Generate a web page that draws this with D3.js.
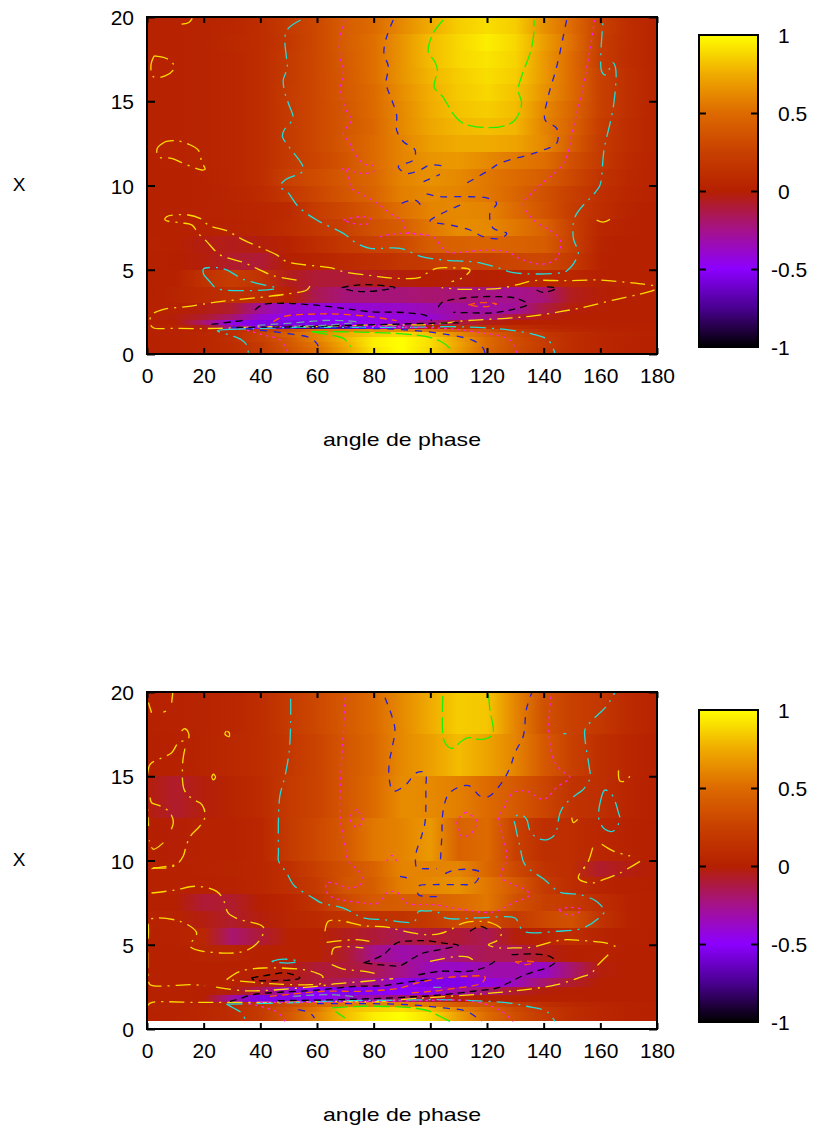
<!DOCTYPE html>
<html><head><meta charset="utf-8">
<script src="https://cdn.jsdelivr.net/npm/d3@7"></script>
<style>html,body{margin:0;background:#fff}svg{display:block}text{font-family:"Liberation Sans",Arial,sans-serif;fill:#000}</style>
</head><body><div id="c"></div>
<script>
const xTicks=[0,20,40,60,80,100,120,140,160,180];
const yTicks=[0,5,10,15,20];
const barTicks=[-1,-0.5,0,0.5,1];
const xLabel="angle de phase", yLabel="X";
const angles=[0,10,20,30,40,50,60,70,80,90,100,110,120,130,140,150,160,170,180];
const paletteStops=[-1,-0.75,-0.5,-0.25,0,0.25,0.5,0.75,1];
const paletteColors=["#000000","#4a0090","#8c00ff","#a5128a","#b52000","#c84000","#dd6a00","#f0ab00","#ffff00"];

const topEdges=[20,19,18,17,16,15,14,13,12,11,10,9,8,7,6,5,4,3,2.4,2,1.7,1.5,1.3,1,.7,.4,0];
const topValues=[
[.02,.02,.03,.05,.1,.2,.3,.42,.5,.62,.75,.85,.9,.85,.65,.5,.25,.1,.03],
[.02,.02,.03,.06,.1,.19,.3,.42,.52,.66,.8,.88,.95,.88,.7,.52,.23,.1,.03],
[.02,.02,.03,.05,.1,.2,.3,.41,.52,.66,.8,.88,.92,.87,.68,.5,.22,.1,.03],
[.02,.02,.03,.05,.1,.2,.3,.4,.52,.66,.78,.85,.9,.85,.68,.5,.25,.12,.03],
[.02,.02,.03,.05,.1,.21,.3,.4,.5,.64,.76,.84,.88,.82,.66,.5,.25,.12,.03],
[.02,.02,.03,.05,.1,.2,.3,.38,.5,.62,.75,.82,.85,.8,.62,.47,.25,.12,.02],
[.02,.02,.03,.05,.1,.2,.3,.38,.48,.62,.73,.79,.81,.78,.6,.45,.22,.1,.02],
[.02,.02,.03,.05,.1,.2,.3,.39,.5,.6,.7,.75,.75,.72,.62,.42,.2,.1,.02],
[.01,.02,.03,.05,.1,.2,.28,.37,.5,.6,.66,.68,.62,.56,.52,.34,.2,.08,.02],
[.01,.01,.02,.05,.1,.25,.32,.4,.48,.6,.65,.62,.55,.5,.42,.3,.15,.06,.02],
[.01,.01,.02,.04,.08,.18,.28,.38,.46,.58,.62,.6,.55,.47,.35,.24,.12,.05,.02],
[.01,.01,.02,.03,.05,.08,.22,.3,.4,.52,.6,.62,.6,.5,.37,.22,.1,.03,.01],
[.01,.01,.01,.02,.04,.1,.18,.25,.35,.42,.55,.63,.62,.55,.45,.25,.05,.02,.01],
[.02,.01,-.03,-.05,-.02,.02,.1,.19,.25,.3,.42,.45,.47,.45,.42,.25,.03,.01,.01],
[.01,0,-.02,-.08,-.1,0,.03,.08,.12,.17,.2,.25,.25,.28,.3,.2,.02,.01,.01],
[.01,.01,.14,.22,.15,-.05,-.1,-.1,-.05,-.02,0,-.02,0,.02,.05,.05,.01,.01,.01],
[0,.03,.08,.12,.1,0,-.15,-.22,-.22,-.22,-.2,-.22,-.24,-.26,-.22,-.05,-.01,0,0],
[.01,.01,-.03,-.08,-.28,-.4,-.42,-.42,-.4,-.38,-.34,-.3,-.3,-.28,-.12,-.02,0,0,0],
[0,-.02,-.08,-.2,-.4,-.47,-.5,-.48,-.45,-.42,-.4,-.3,-.25,-.1,-.03,0,0,0,0],
[0,0,-.2,-.45,-.55,-.55,-.55,-.5,-.45,-.4,-.25,-.12,-.05,0,.01,.01,.01,0,0],
[.02,.02,-.03,-.3,-.5,-.7,-.8,-.7,-.5,-.3,0,.1,.12,.1,.05,.03,.02,.01,.01],
[.01,.02,.03,.1,.2,.35,.55,.6,.65,.65,.55,.4,.35,.2,.1,.05,.03,.02,.01],
[.01,.02,.05,.1,.25,.45,.6,.75,.85,.9,.8,.62,.45,.3,.18,.1,.05,.03,.02],
[.01,.02,.05,.12,.25,.4,.6,.78,.95,1,.9,.7,.5,.33,.2,.1,.05,.02,.01],
[.01,.02,.05,.1,.2,.38,.55,.75,.95,1,.9,.72,.5,.33,.22,.1,.05,.02,.01],
[.01,.02,.05,.1,.2,.36,.52,.72,.92,1,.88,.7,.48,.32,.2,.1,.05,.02,.01]
];

const bottomEdges=[20,17.5,15,12.5,10,9,8,7,6,5,4,3,2.5,2,1.6,1.3,1,.45];
const bottomValues=[
[.01,.02,.03,.05,.1,.2,.3,.4,.5,.62,.75,.85,.83,.6,.35,.25,.18,.08,.02],
[0,.01,.03,.06,.1,.18,.27,.38,.48,.62,.7,.8,.72,.6,.4,.25,.12,.05,.01],
[-.02,-.08,-.02,.03,.08,.2,.27,.38,.5,.63,.62,.58,.5,.4,.28,.15,.12,.04,.01],
[0,-.01,.02,.02,.05,.2,.3,.4,.55,.6,.68,.45,.5,.25,.12,.1,.05,.02,0],
[.01,.01,.02,.03,.05,.12,.25,.35,.45,.6,.6,.6,.48,.3,.15,.1,-.08,-.03,0],
[.01,.01,.01,.02,.05,.12,.2,.37,.42,.58,.62,.65,.55,.4,.2,.1,.03,.01,0],
[0,0,-.1,-.08,0,.05,.15,.3,.4,.42,.45,.5,.55,.35,.25,.2,.1,.02,.01],
[.02,.02,-.03,-.08,-.02,.05,.08,.15,.15,.15,.2,.3,.3,.2,.3,.35,.15,.02,.01],
[.01,.02,.05,-.2,-.1,.02,.02,-.05,-.1,-.15,-.1,-.1,-.15,-.02,.02,.1,.03,.01,0],
[.01,.01,.03,.03,.01,.02,.02,-.08,-.25,-.32,-.28,-.2,-.15,-.15,-.05,0,.01,0,0],
[.01,.01,.01,.01,.02,-.02,-.1,-.1,-.15,-.25,-.35,-.38,-.32,-.32,-.38,-.2,-.02,0,0],
[.01,.01,.01,.02,-.03,-.05,-.1,-.18,-.25,-.45,-.55,-.55,-.45,-.35,-.2,-.08,0,0,0],
[.01,.01,0,-.02,-.15,-.4,-.5,-.55,-.52,-.5,-.45,-.3,-.2,-.08,-.02,0,0,0,0],
[.01,.01,0,-.3,-.55,-.55,-.5,-.4,-.3,-.2,-.1,-.02,0,0,.01,.01,0,0,0],
[.02,.02,.03,.08,.15,.3,.45,.55,.6,.6,.55,.4,.35,.2,.12,.06,.04,.02,.01],
[.02,.02,.05,.1,.2,.35,.55,.8,.85,.9,.8,.6,.45,.3,.18,.1,.05,.02,.01],
[.01,.02,.05,.1,.2,.38,.6,.8,.95,1,.9,.7,.5,.33,.2,.1,.05,.02,.01]
];

const topYellow=[
[[57.5,4.04],[56.4,3.8],[49.3,3.56],[39.9,3.36],[25.8,3.11],[14,2.81],[5.8,2.65],[1.6,2.31],[1.1,1.82],[2.2,1.56],[9.3,1.52],[24.6,1.52],[41,1.62],[59.9,1.62],[79.9,1.72],[99.9,1.76],[112.8,1.98],[126.9,2.12],[136.4,2.26],[145.8,2.51],[155.2,2.81],[164.6,3.2],[174,3.56],[179.3,3.84],[179.3,4],[175.2,4.15],[169.3,4.25],[159.9,4.39],[148.1,4.35],[136.4,4.35],[131.6,4.15],[124.6,3.9],[117.5,3.84],[110.5,3.84],[104,3.94]],
[[52.8,4.39],[44.6,4.65],[38.7,5.08],[34,5.44],[25.8,5.88],[21.1,6.67],[18.1,7.16],[15.8,7.66],[11.6,7.79],[6.4,7.95],[6.9,8.15],[14.6,8.25],[18.7,8.05],[22.2,7.6],[28.1,7.32],[34,6.77],[41.6,6.21],[45.8,5.88],[49.3,5.48],[64.6,5.12],[69.3,4.89],[79.9,4.63],[88.1,4.49],[96.4,4.55],[98.7,4.79],[102.2,5.08],[106.9,5.12],[114,4.99],[111.6,4.55],[107.5,4.29]],
[[2.5,17.69],[1.4,17.15],[2.2,16.46],[6.4,16.5],[9.6,16.95],[8.7,17.35],[5.8,17.6],[2.5,17.69]],
[[6.4,12.6],[3.6,12.2],[4,11.71],[8.7,11.61],[12.8,11.32],[19.3,10.92],[20.5,10.96],[19.3,11.41],[18.1,12.1],[14.6,12.46],[10.5,12.66],[6.4,12.6]],
[[12.2,19.58],[14.6,19.66],[16,19.92]],
[[158.7,7.95],[161,7.83],[163.4,7.99]]
];
const topCyan=[
[[54.2,19.82],[49.9,19.33],[48.7,18.83],[49.3,17.45],[49.5,16.95],[48.1,16.26],[48.7,15.47],[49.9,14.88],[51.6,13.99],[50.5,13.69],[48.4,13.29],[47.8,12.9],[50.5,12.21],[55.2,10.92],[48.7,10.32],[46.9,9.93],[49.5,9.63],[53.4,8.74],[59.9,7.95],[69.3,7.16],[74,6.57],[78.7,6.27],[89.3,6.27],[96.9,5.78],[104.6,5.58],[116.4,5.44],[123.4,5.14],[129.3,4.83],[144.6,4.79],[148.1,4.93],[152.2,5.97],[150.5,6.86],[151.1,8.15],[158.1,9.57],[159.9,10.03],[161.3,12.11],[164.6,14.68],[165.4,16.95],[164.4,17.29],[161.9,16.56],[160.5,16.76],[160.2,17.84],[161,19.82]],
[[20.1,4.69],[22.2,4.29],[24.6,3.9],[34,3.76],[45.8,3.9],[40.5,4.13],[34,4.43],[28.1,4.99],[25.2,5.12],[19.9,5.04],[20.1,4.69]],
[[29.3,1.46],[24.8,1.38],[29.9,1.09],[33.4,.83],[35.2,.53],[35.8,.04]],
[[29.3,1.46],[52.8,1.58],[76.4,1.58],[91.6,1.58],[106.9,1.62],[118.7,1.56],[128.1,1.42],[136.4,1.17],[141.6,.83],[144,.04]]
];
const topMagenta=[
[[70.2,19.82],[68.1,18.83],[68.1,17.65],[69.3,16.66],[68.1,15.67],[70.5,14.38],[72.2,13.89],[69.3,13.1],[71.6,12.5],[74,11.71],[76.9,11.26],[79.9,11.16],[79.9,10.82],[76.4,10.72],[72.8,10.82],[69.9,11.06],[68.1,10.88]],
[[70.5,10.92],[72.2,9.83],[74,9.63],[80.5,9.04],[85.8,8.35],[90.5,7.85],[91.6,7.26],[98.7,7.06],[101,6.96],[105.8,6.07],[112.8,6.07],[119.9,6.17],[126.9,6.07],[132.8,5.58],[139.9,5.34],[144.6,5.68],[145.8,6.77],[141.1,7.46],[136.4,7.95],[132.8,8.94],[136.4,9.63],[138.7,10.03],[147,11.32],[150.5,13.49],[153.9,15.87],[156.3,18.04],[158,19.82]],
[[69.3,7.95],[75.2,8.15],[78.7,8.05],[78.1,7.75],[72.8,7.75],[69.3,7.95]],
[[82.2,6.96],[86.9,7.12],[94,7.16],[98.7,7.06]],
[[35.2,1.42],[41,1.13],[47,.83],[49.9,.04]],
[[35,1.55],[60,1.68],[90,1.6],[104.6,1.52],[115.2,1.33],[128.1,.83],[130.5,.04]]
];
const topBlue=[
[[86.9,19.82],[84.6,18.83],[83.6,17.84],[85.2,17.05],[84.4,16.06],[86.4,15.07],[88.1,14.18],[88.1,13.29],[90.5,12.6],[94.6,12.1],[94,11.51],[88.7,11.12],[91.6,10.72],[96.4,10.92],[99.9,11.22],[105.6,11.12]],
[[97.6,10.23],[103.4,10.66]],
[[89.9,8.94],[94.6,9.14],[96.4,8.84],[94.6,8.74]],
[[148.1,19.82],[146.9,18.83],[144.6,17.05],[141.6,15.27],[140.5,13.89],[144.6,13.39],[144.6,12.5],[139.9,12.11],[134.6,11.81],[124.6,11.32],[119.9,10.82],[111.6,10.03]],
[[110.5,8.84],[104.2,8.35],[99.9,7.89],[106.9,7.66],[114,7.36],[118.7,6.96],[124.6,6.86],[127,7.16],[122.2,7.46],[121,8.35],[123.4,8.94],[120.5,9.24],[111.6,9.34],[103.4,9.34],[98.7,9.5]],
[[30,1.6],[44.6,1.33],[50.5,1.19],[58,.93],[60.5,.44],[60.5,.04]],
[[60,1.55],[90,1.45],[106.9,1.13],[115.2,.79],[118.7,.34],[119.3,.04]]
];
const topGreen=[
[[104.6,19.82],[101,19.03],[99.3,17.94],[101.6,17.35],[102.5,16.85],[101.4,15.83],[104.4,15.27],[105.8,14.88],[108.7,14.12],[111.6,13.69],[118.7,13.45],[125.8,13.53],[129.9,13.89],[132.2,14.88],[131,15.67],[132.8,16.76],[135.2,17.84],[136.4,18.83],[136.6,19.82]],
[[58.1,1.33],[65.8,1.09],[69.3,.93],[71.9,.44]],
[[58.1,1.33],[75,1.3],[92.2,1.17],[98.7,1.03],[103.4,.77],[106.9,.34],[107.9,.04]]
];
const topBlack=[
[[38.1,2.61],[40.5,2.91],[46.9,3.01],[58.7,2.91],[69.3,2.71],[78.7,2.51],[91.6,2.45],[98.7,2.26],[100.5,1.98]],
[[22.8,1.76],[30.5,1.92],[34,2.02],[34.6,2.18]],
[[31.6,1.58],[52.8,1.62],[76.4,1.72],[99.9,1.82],[110,1.85]],
[[68.7,3.94],[74,4.09],[81.1,4.09],[87.5,3.94],[83.3,3.8],[76.4,3.7],[71.1,3.8],[68.7,3.94]],
[[102.8,2.77],[104,3.05],[114,3.36],[124.6,3.4],[130.5,3.3],[134.4,2.95],[129.3,2.65],[122.2,2.45],[112.8,2.45],[108.1,2.47]],
[[137.5,3.8],[139.9,3.66],[144.6,3.9],[141,3.99]]
];
const topOrange=[
[[44.6,1.92],[48.1,2.22],[58.7,2.37],[66.9,2.37],[78.7,2.22],[88.1,1.98]],
[[113.4,2.91],[117.5,3.05],[123.4,2.97],[119.3,2.81],[113.4,2.91]]
];
const topGray=[
[[39,1.7],[52,1.85],[64,2],[74,1.9],[64,1.72],[52,1.65]]
];

const botYellow=[
[[.5,19.37],[1.6,18.77]],[[9.1,19.96],[8.7,19.37]],[[5.8,18.81],[6.7,18.87]],
[[12.2,17.69],[13.4,17.82],[14.6,17.59],[14.6,17.23],[11.1,16.99],[8.7,16.4],[4.6,16.04],[1.1,15.71],[.1,14.82],[.5,12.05]],
[[13.4,16.64],[12.6,15.81],[13.1,14.22],[15.8,13.67],[19.3,13.33],[20.5,12.64],[18.7,12.05],[15.8,11.55],[14,10.96],[12.8,10.27],[10.5,9.77],[7,9.57],[2.2,9.57]],
[[1.1,13.73],[1.6,13.43],[4.8,13.23],[8.1,12.84],[9.3,12.25],[7.9,11.61]],
[[5.8,11.06],[2.2,10.67],[.8,11.2]],
[[28,17.69],[27.5,17.49],[29,17.35],[29,17.59],[28,17.69]],
[[22.8,14.95],[23.4,15.12],[24.2,14.95],[23.4,14.78],[22.8,14.95]],
[[166.4,15.35],[166.9,14.72],[169.3,14.76],[170.5,15.05]],
[[149.9,12.54],[150.5,12.25],[152,12.44]],
[[157.3,10.76],[155.8,9.97],[154,9.47]],
[[160.5,10.96],[164.6,10.56],[170.5,10.27]],
[[174,9.95],[166.9,9.26],[161,8.86],[156.4,8.66],[152.2,8.96],[154.6,9.65]],
[[1.6,9.52],[10.8,9.75]],
[[.1,9.06],[.1,8.07]],
[[1.6,8.07],[9.3,8.23],[17.5,8.47],[24.6,8.17],[26.9,7.68],[28.7,6.88],[32.2,6.53],[41.1,6.03],[39.9,5.3],[35.2,4.67],[25.8,4.51],[15.2,4.91],[17.5,5.7],[11.6,6.39],[1.1,6.49],[.5,5.7],[.5,2.93],[1.1,2.63],[15.8,2.63],[20.5,2.57]],
[[28.1,2.93],[32.8,3.42],[41.1,3.62],[55.2,3.52],[59.9,3.32],[62,3.13],[61.6,2.73],[57.5,2.63],[43.4,2.69],[28.1,2.93]],
[[24.4,2.49],[34,2.27],[42.2,2.29],[59.9,2.53],[67,2.69],[76.4,2.82],[86.9,2.99]],
[[62.8,5.8],[64,6.39],[68.1,6.43],[76.4,6.13],[84.6,6.05],[89.3,5.86],[98.1,5.6],[103.4,5.66],[107,5.89],[111.6,6.29],[117.5,6.39],[121.6,6.29],[125.2,5.89],[124,5.3],[120.5,5],[124.6,4.81],[129.2,4.81],[136.4,4.87],[143.5,5.2],[148.1,5.3],[152.8,5.26],[162.2,5.1],[165.8,4.87]],
[[63.4,5.14],[74,5.3],[78.5,5.2]],
[[65.2,4.41],[66,4.81],[76.4,4.81]],
[[65.2,3.82],[69.3,3.56],[76.9,3.42],[82.2,3.22]],
[[99.9,4.02],[105.2,4.2],[109.3,4.3],[113.4,4.27],[116.4,3.92]],
[[162.8,4.41],[158.7,3.72],[156.9,3.32],[153.4,3.09],[144.6,2.63],[135.2,2.37],[122.2,2.14],[115.2,2.04],[101,1.88],[89.3,1.74],[83.4,1.64],[64.6,1.64],[41,1.58],[17.5,1.58],[1.1,1.54],[.1,1.35]]
];
const botCyan=[
[[50.7,19.6],[50.7,18.18],[50.2,16.5],[48.7,15.01],[46.9,13.83],[46.4,12.44],[46.4,10.46],[46.4,9.99],[49.3,9.26],[51.6,8.57],[53.8,8.27],[58.7,7.77],[61.6,7.48],[69.3,7.18],[76.4,6.59],[83.4,6.49],[94,6.35],[95.2,6.59],[95.8,6.98],[98.7,7],[102.2,6.98],[105.2,6.59],[116.3,6.59],[129.9,6.59],[131.1,6.29],[132.9,5.8],[144.6,5.8],[153.9,5.99],[159.9,6.65],[161.4,6.98],[158.7,7.57],[152.8,7.97],[149.3,8.03],[145.8,8.11],[140,8.9],[133.4,9.75],[131.6,10.86],[130,12.05],[129.6,12.54],[131.7,12.74],[134,12.44],[135.2,11.75],[138.1,11.3],[141.6,11.26],[144,11.55],[145.8,12.84],[147.5,13.33],[151.7,13.93],[154,14.22],[156.4,14.92],[156.1,15.51],[154.6,17.19],[154.6,17.78],[157.5,18.38],[159.9,18.77],[162.2,19.17],[165.1,19.96]],
[[160.5,13.83],[159.5,13.04],[159.5,12.44],[161.6,11.85],[164.6,11.75],[166.9,12.44],[166.4,12.84],[164,13.93],[161.6,14.18],[160.5,13.83]],
[[146.9,17.53],[148,17.53]],
[[44,4.02],[48.1,4.15],[53.4,4.02],[50.5,3.92],[45.8,3.96],[44,4.02]],
[[28.1,1.48],[30.5,1.25],[33.4,.95],[35,.45]],
[[28.1,1.48],[50,1.55],[70,1.68],[88,1.7],[101,1.74],[112.8,1.7],[128.1,1.54],[134,1.35],[141,1.05],[144,.45]]
];
const botMagenta=[
[[69.9,19.66],[69.3,17.59],[68.7,16],[68.1,13.83],[68.1,12.64],[69.9,10.86],[71.1,9.97],[75.2,9.26],[75.8,8.66],[71.6,8.37],[65.8,8.66],[63.4,8.66],[64,7.97],[76.4,7.48],[81.6,7.48],[84.6,8.07],[88.1,8.13],[91.6,7.48],[98.7,7.38],[101.3,7.38],[111.6,7.08],[121,6.92],[124.5,7.08],[129.2,7.48],[135.2,7.97],[133.4,8.27],[128.1,8.66],[124.6,9.06],[126.9,9.95],[126.9,10.46],[124.6,12.05],[124,12.44],[126,13.14],[129.3,14.03],[134,14.12],[140,13.63],[145.1,14.42],[149.3,14.92],[145.8,15.41],[143.5,16],[141.9,17.39],[142.2,19.17],[142.8,19.96]],
[[74,13.04],[71.6,12.54],[74,11.95],[76,12.44],[74,13.04]],
[[112.5,12.88],[109.5,12.34],[111,11.45],[114,11.55],[116.4,12.34],[112.5,12.88]],
[[84.6,9.97],[86.4,10.31],[88.1,9.97]],
[[145.2,7.08],[149.2,7.22],[153.4,7.08],[149.2,6.75],[145.2,7.08]],
[[35.8,1.5],[42.2,1.25],[46.4,.95],[48.7,.45]],
[[40,1.58],[70,1.6],[95,1.68],[115.2,1.64],[124.6,1.11],[129.3,.45]]
];
const botBlue=[
[[84,19.66],[86.4,18.58],[87.5,17.78],[86.4,16.6],[85.5,15.81],[85.5,14.82],[86.9,14.12],[91.1,14.46],[95.2,15.21],[98.1,15.21],[98.4,14.22],[98.1,12.25],[96.9,11.45],[94.9,10.37],[95.2,9.57],[96.9,9.52],[102.2,9.52]],
[[103.6,10.07],[104,11.26],[104.6,13.04],[106.4,13.93],[110.5,14.38],[114,14.42],[117.5,13.83],[120.5,13.79],[125.2,14.62],[128.1,15.51],[129.9,16.4],[132.8,17.39],[133.9,18.97],[135.8,19.96]],
[[105.2,9.22],[108.1,9.42],[114.6,9.46],[117.5,9.3],[115.7,8.66],[109.3,8.57],[101.6,8.57],[95.8,8.47],[95.8,7.97],[103.4,7.87]],
[[89.3,9.06],[92.2,8.96]],
[[53.4,1.15],[57.5,.95],[59.1,.65]],
[[60,1.5],[80,1.5],[92.8,1.44],[104.6,1.25],[112.8,1.05],[118.1,.45]]
];
const botGreen=[
[[104.4,19.76],[104.4,17.49],[105.2,16.99],[107.5,16.65],[111.1,17.09],[113.4,17.29],[118.2,17.19],[122,17.49],[121,18.97],[120.5,19.96]],
[[66.4,1.05],[69.9,.65]],
[[65.2,1.25],[76.4,1.35],[94,1.25],[99.9,1.05],[101,.95],[107,.45]]
];
const botBlack=[
[[36.9,3.03],[43.4,3.22],[49.3,3.32],[54,3.03],[49.3,2.89],[37.5,2.93],[36.9,3.03]],
[[29.3,1.64],[31.6,1.74],[37.5,2.04],[46.9,2.18],[58.7,2.29],[74,2.53],[83.4,2.57],[94,2.83],[99.9,2.93]],
[[76.4,3.92],[83.4,4.41],[88.1,5.1],[95.2,5.24],[98.7,5.24],[104.6,5.1],[109.9,4.97],[103.4,4.71],[97.5,4.51],[94,4.21],[89.3,3.76],[85.8,3.76],[76.4,3.92]],
[[128.7,4.41],[136.4,4.45],[142.2,4.31],[144.2,4.02],[142.2,3.72],[135.2,3.32],[132.2,3.13],[127.5,2.73],[123.4,2.43],[115.2,2.24],[104.6,2.04],[92.8,1.9],[70,1.75],[45,1.68]],
[[95.8,3.22],[103.4,3.42],[112.8,3.42],[118.7,3.62],[122.8,4.02]],
[[114,5.8],[117.5,6.09],[120.5,5.9]]
];
const botOrange=[
[[129.9,3.98],[134,4.02],[136.9,3.96],[133.4,3.82],[129.9,3.98]],
[[43.4,1.94],[49.3,2.04],[62.2,2.24],[76.4,2.24],[89.3,2.43],[95.2,2.73],[104.6,3.03],[112.8,3.13],[119.3,3.09],[118.1,2.73],[109.3,2.43],[101,2.24],[92.8,2.14]]
];
const botGray=[
[[51.6,1.94],[64.6,2.04],[74,1.9]],
[[101,2.47],[104.6,2.47]]
];

const w=815,h=1126;
const svg=d3.select("#c").append("svg").attr("width",w).attr("height",h).attr("viewBox",`0 0 ${w} ${h}`);
const defs=svg.append("defs");
const color=d3.scaleLinear().domain(paletteStops).range(paletteColors).interpolate(d3.interpolateRgb).clamp(true);
const lineStyles=[
 ["#ffdc00","15 6 2 6"],["#1fdcdc","16 6 2 6"],["#ff1fe0","2.6 4"],["#2020e0","7 7"],
 ["#1ff000","16 5"],["#000000","7 5"],["#ff5a00","7 5"],["#6f9fa8","8 5"]];

function panel(id,cfg){
 const g=svg.append("g");
 const x=d3.scaleLinear().domain([0,180]).range([147,657]);
 const y=d3.scaleLinear().domain([0,20]).range([cfg.y0,cfg.y0-337]);
 const clipId="clip"+id;
 defs.append("clipPath").attr("id",clipId).append("rect").attr("x",147).attr("y",cfg.y0-337).attr("width",510).attr("height",337);
 cfg.values.forEach((row,i)=>{
  const gid=`${id}r${i}`;
  const lg=defs.append("linearGradient").attr("id",gid);
  row.forEach((v,j)=>lg.append("stop").attr("offset",angles[j]/180).attr("stop-color",color(v)));
  const y1=Math.round(y(cfg.edges[i])), y2=Math.round(y(cfg.edges[i+1]));
  g.append("rect").attr("x",x(0)).attr("width",x(180)-x(0))
   .attr("y",y1).attr("height",y2-y1)
   .attr("shape-rendering","crispEdges")
   .attr("fill",`url(#${gid})`);
 });
 const line=d3.line().x(d=>x(d[0])).y(d=>y(d[1])).curve(d3.curveCatmullRom.alpha(.5));
 const cg=g.append("g").attr("clip-path",`url(#${clipId})`);
 cfg.contours.forEach((set,k)=>{
  cg.selectAll(null).data(set).join("path").attr("d",line).attr("fill","none")
   .attr("stroke",lineStyles[k][0]).attr("stroke-dasharray",lineStyles[k][1]).attr("stroke-width",1.3);
 });
 const ax=(a,t)=>{a.attr("font-size",null).attr("font-family",null);a.select(".domain").remove();a.selectAll("line").attr("stroke","#000").attr("stroke-width",2);t&&a.selectAll("text").attr("font-size",21)};
 g.append("g").attr("transform",`translate(0,${cfg.y0})`).call(d3.axisBottom(x).tickValues(xTicks).tickSize(-6).tickPadding(14).tickFormat(d3.format("d"))).call(a=>ax(a,1));
 g.append("g").attr("transform",`translate(0,${cfg.y0-337})`).call(d3.axisTop(x).tickValues(xTicks).tickSize(-6).tickFormat("")).call(a=>ax(a,0));
 g.append("g").attr("transform","translate(147,0)").call(d3.axisLeft(y).tickValues(yTicks).tickSize(-8).tickPadding(13).tickFormat(d3.format("d"))).call(a=>{ax(a,1);a.selectAll("text").attr("dy",".36em")});
 g.append("g").attr("transform","translate(657,0)").call(d3.axisRight(y).tickValues(yTicks).tickSize(-8).tickFormat("")).call(a=>ax(a,0));
 g.append("rect").attr("x",147).attr("y",cfg.y0-337).attr("width",510).attr("height",337).attr("fill","none").attr("stroke","#000").attr("stroke-width",2);
 g.append("text").attr("x",402).attr("y",cfg.y0+91.6).attr("text-anchor","middle").attr("font-size",19).attr("textLength",158).attr("lengthAdjust","spacingAndGlyphs").text(xLabel);
 g.append("text").attr("x",19).attr("y",cfg.y0-163).attr("text-anchor","middle").attr("font-size",19).text(yLabel);
 // colour bar
 const by=d3.scaleLinear().domain([-1,1]).range([cfg.y0-7,cfg.y0-319]);
 const bid=id+"bar";
 const blg=defs.append("linearGradient").attr("id",bid).attr("x1",0).attr("x2",0).attr("y1",1).attr("y2",0);
 paletteStops.forEach(v=>blg.append("stop").attr("offset",(v+1)/2).attr("stop-color",color(v)));
 g.append("rect").attr("x",699).attr("width",59).attr("y",by(1)).attr("height",by(-1)-by(1)).attr("fill",`url(#${bid})`).attr("stroke","#000").attr("stroke-width",2);
 g.append("g").attr("transform","translate(699,0)").call(d3.axisRight(by).tickValues(barTicks.slice(1,4)).tickSize(7).tickFormat("")).call(a=>ax(a,0));
 g.append("g").attr("transform","translate(758,0)").call(d3.axisLeft(by).tickValues(barTicks.slice(1,4)).tickSize(7).tickFormat("")).call(a=>ax(a,0));
 g.selectAll(null).data(barTicks).join("text").attr("x",d=>d<0?771:778).attr("y",d=>by(d)+7.5).attr("font-size",21).text(d=>d);
}
panel("t",{y0:354,edges:topEdges,values:topValues,contours:[topYellow,topCyan,topMagenta,topBlue,topGreen,topBlack,topOrange,topGray]});
panel("b",{y0:1029,edges:bottomEdges,values:bottomValues,contours:[botYellow,botCyan,botMagenta,botBlue,botGreen,botBlack,botOrange,botGray]});
</script></body></html>
